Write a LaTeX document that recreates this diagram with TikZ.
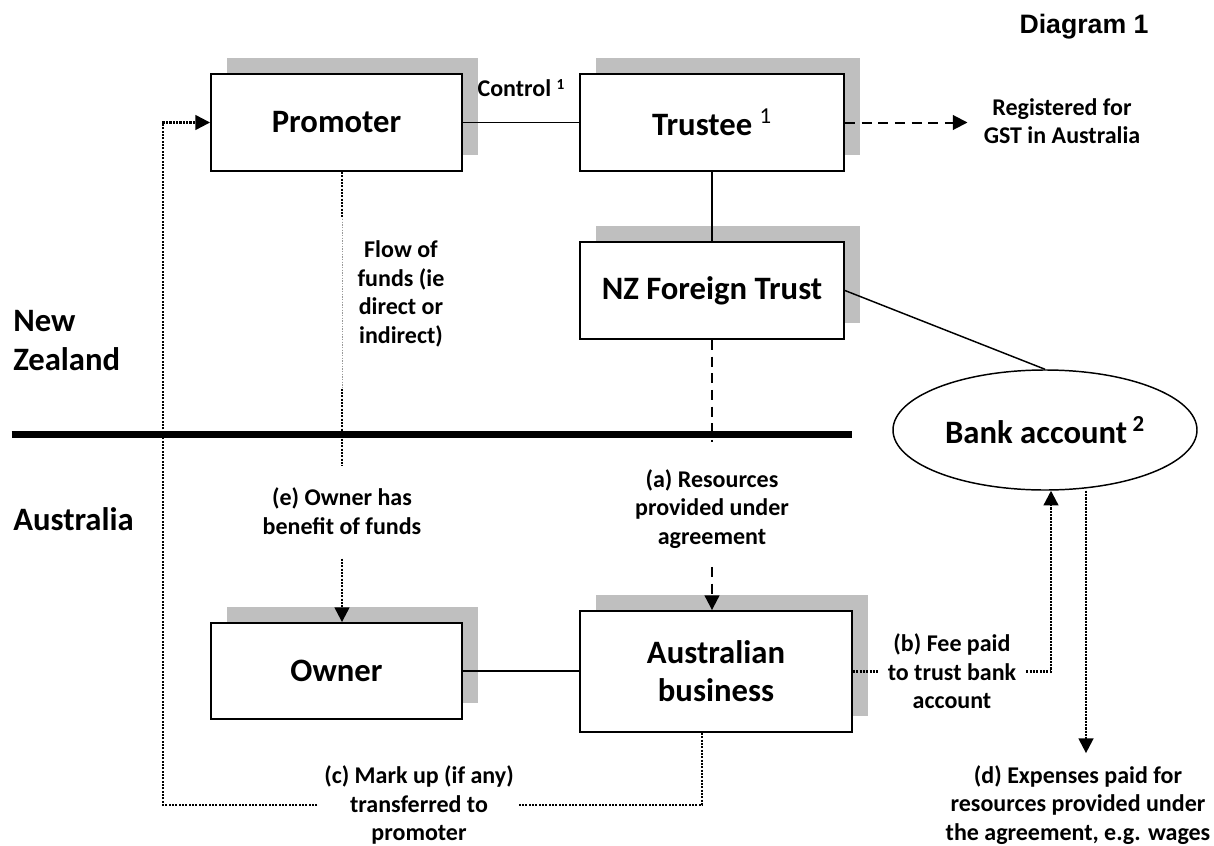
\documentclass[tikz,border=0pt]{standalone}
\usepackage{fontspec}
\setmainfont{Carlito}
\newfontfamily\titlefont{Liberation Sans}
\usepackage{tikz}
\usetikzlibrary{arrows.meta,shapes.geometric,shadows,calc}
\definecolor{shadegray}{RGB}{191,191,191}

\begin{document}
\begin{tikzpicture}[x=0.75pt,y=-0.75pt,
  >={Triangle[length=11pt,width=11pt]},
  box/.style={draw,line width=1.4pt,fill=white,align=center,inner sep=0pt,
    font=\fontsize{24.5}{28.5}\selectfont\bfseries,
    general shadow={fill=shadegray,shadow xshift=12pt,shadow yshift=12pt}},
  lbl/.style={align=center,inner sep=0pt,font=\fontsize{18}{21.5}\selectfont\bfseries},
  link/.style={line width=1.1pt},
  dotline/.style={line width=1.7pt,dash pattern=on 1.6pt off 0.9pt},
  dashline/.style={line width=1.5pt,dash pattern=on 7.5pt off 5pt}]

\useasboundingbox (0,0) rectangle (1214,846);

% border between the two countries
\draw[line width=5.7pt] (11.7,434.5) -- (851.7,434.5);

\node[font=\titlefont\fontsize{20}{24}\selectfont\bfseries] (title) at (1084,27) {Diagram 1};
\node[anchor=west,align=left,inner sep=0pt,font=\fontsize{24.5}{29.25}\selectfont\bfseries] (nzlab) at (13,341) {New\\Zealand};
\node[anchor=base west,inner sep=0pt,font=\fontsize{24.5}{29.25}\selectfont\bfseries] (auslab) at (13,530) {Australia};

\node[box,minimum width=188.25pt,minimum height=72.75pt] (prom) at (336.5,122.5) {Promoter};
\node[box,minimum width=198pt,minimum height=72.75pt] (trus) at (712,122.5) {Trustee \textsuperscript{\mdseries 1}};
\node[box,minimum width=198pt,minimum height=72.75pt] (nzft) at (712,290.5) {NZ Foreign Trust};
\node[box,minimum width=188.25pt,minimum height=72pt] (owner) at (336.5,671) {Owner};
\node[box,minimum width=204pt,minimum height=90.75pt] (ausb) at (716,671.5) {Australian\\business};
\node[draw,ellipse,line width=1.1pt,minimum width=228pt,minimum height=90pt,inner sep=0pt,
  font=\fontsize{24.5}{28.5}\selectfont\bfseries] (bank) at (1045,430) {Bank account\,\textsuperscript{2}};

\node[lbl] (reg) at (1062,121) {Registered for\\GST in Australia};
\node[lbl] (flow) at (401,294) {Flow of\\funds (ie\\direct or\\indirect)};
\node[lbl] (elab) at (342,511) {(e) Owner has\\benefit of funds};
\node[lbl] (alab) at (712,509) {(a) Resources\\provided under\\agreement};
\node[lbl] (dlab) at (1078,805) {(d) Expenses paid for\\resources provided under\\the agreement, e.g. wages};

\draw[link] (prom.east) -- node[lbl,above=19pt] (ctrl) {Control {\fontsize{11.5}{12}\selectfont\raisebox{5pt}{1}}} (trus.west);
\draw[link] (trus) -- (nzft);
\draw[link] (nzft.east) -- (bank.north);
\draw[link] (owner.east) -- (owner.east -| ausb.west);
\draw[dashline,->,shorten >=12pt] (trus.east) -- (trus.east -| reg.west);

% flow of funds
\draw[dotline,shorten >=16.5pt] (prom.south -| elab.north) -- (elab.north);
\draw[white,line width=2.5pt] ($(prom.south -| elab.north)+(0,47)$) -- ($(prom.south -| elab.north)+(0,216)$);
\draw[black!40,line width=0.5pt,dash pattern=on 1pt off 1pt] ($(prom.south -| elab.north)+(0,47)$) -- ($(prom.south -| elab.north)+(0,216)$);
\draw[dotline,->,shorten <=18pt] (elab.south) -- (elab.south |- owner.north);

% resources
\draw[dashline,shorten >=20pt] (nzft.south) -- (alab.north);
\draw[dashline,->,shorten <=13.5pt] (alab.south) -- (alab.south |- ausb.north);

% fee and expenses
\coordinate (bturn) at (1051,671.5);
\draw[dotline,->] (ausb.east) -- node[lbl,fill=white,inner xsep=7pt] (blab) {(b) Fee paid\\to trust bank\\account} (bturn) -- (bturn |- bank.south);
\coordinate (dtop) at ([xshift=30.75pt]bank.south);
\draw[dotline,->,shorten >=9pt] (dtop) -- (dtop |- dlab.north);

% mark up back to the promoter
\coordinate (cR) at (702,805);
\coordinate (cL) at (163,805);
\draw[dotline,->] (ausb.south -| cR) -- (cR) -- node[lbl,fill=white,inner xsep=4.3pt,pos=0.525] (clab) {(c) Mark up (if any)\\transferred to\\promoter} (cL) -- (cL |- prom.west) -- (prom.west);
\end{tikzpicture}
\end{document}
